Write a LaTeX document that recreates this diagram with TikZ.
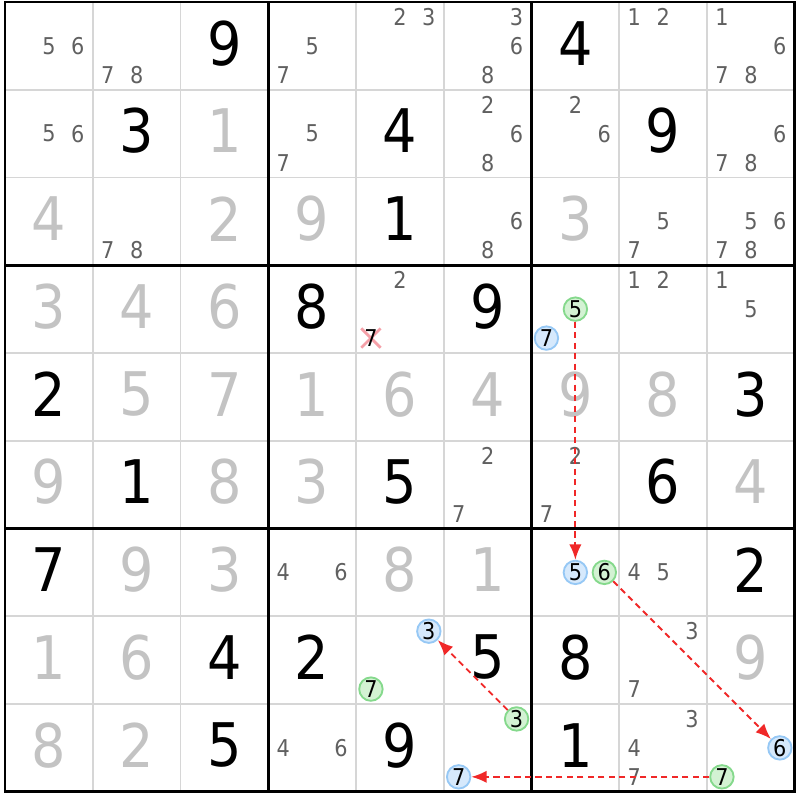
\documentclass[tikz,border=0pt]{standalone}
\usepackage{fontspec}
\setmainfont{DejaVu Sans Condensed}
\usetikzlibrary{arrows.meta}
\definecolor{candgray}{HTML}{606060}
\definecolor{solvedgray}{HTML}{C3C3C3}
\definecolor{thingray}{HTML}{D6D6D6}
\definecolor{linkred}{HTML}{F02828}
\definecolor{onblue}{HTML}{D6E9FC}
\definecolor{onblueline}{HTML}{96C8F5}
\definecolor{offgreen}{HTML}{D3F2D3}
\definecolor{offgreenline}{HTML}{85D98C}
\definecolor{crosspink}{HTML}{F5A0A8}
% candidate #4 of cell (#2,#3), placed in the 3x3 pencil grid
\newcommand{\cand}[4][]{%
  \pgfmathsetmacro{\candx}{#3-0.5+(mod(#4-1,3)-1)*0.33}%
  \pgfmathsetmacro{\candy}{#2-0.5+(floor((#4-1)/3)-1)*0.33}%
  \node[cnd,#1] (k#2#3#4) at (\candx,\candy) {#4};}

\begin{document}
\begin{tikzpicture}[x=1cm, y=-1cm,
  given/.style={font=\fontsize{19.5}{20}\selectfont, inner sep=0pt},
  solved/.style={given, text=solvedgray},
  cnd/.style={font=\fontsize{7.5}{8}\selectfont, text=candgray, inner sep=0pt},
  oncand/.style={circle, draw=onblueline, fill=onblue, text=black, minimum size=7.6pt, line width=0.6pt},
  offcand/.style={oncand, draw=offgreenline, fill=offgreen},
  link/.style={draw=linkred, dash pattern=on 2pt off 1.4pt, line width=0.6pt, -{Latex[length=5pt,width=4pt]}}]
	\fill[white] (-0.057,-0.023) rectangle (9.06,9.094);
	% grid
	\foreach \i in {1,2,4,5,7,8}
	  \draw[thingray, line width=0.5pt] (\i,0) -- (\i,9) (0,\i) -- (9,\i);
	\foreach \i in {3,6}
	  \draw[line width=0.95pt] (\i,0) -- (\i,9) (0,\i) -- (9,\i);
	\draw[line width=0.95pt] (0,0) rectangle (9,9);
	% givens and solved cells
	\foreach \r/\c/\d in {1/3/9,1/7/4,2/2/3,2/5/4,2/8/9,3/5/1,4/4/8,4/6/9,5/1/2,5/9/3,6/2/1,6/5/5,6/8/6,
	  7/1/7,7/9/2,8/3/4,8/4/2,8/6/5,8/7/8,9/3/5,9/5/9,9/7/1}
	  \node[given] (g\r\c) at (\c-0.5,\r-0.53) {\d};
	\foreach \r/\c/\d in {2/3/1,3/1/4,3/3/2,3/4/9,3/7/3,4/1/3,4/2/4,4/3/6,5/2/5,5/3/7,5/4/1,5/5/6,5/6/4,
	  5/7/9,5/8/8,6/1/9,6/3/8,6/4/3,6/9/4,7/2/9,7/3/3,7/5/8,7/6/1,8/1/1,8/2/6,8/9/9,9/1/8,9/2/2}
	  \node[solved] (g\r\c) at (\c-0.5,\r-0.53) {\d};
	% pencil marks
	\foreach \r/\c/\ds in {1/1/{5,6},1/2/{7,8},1/4/{5,7},1/5/{2,3},1/6/{3,6,8},1/8/{1,2},1/9/{1,6,7,8},
	  2/1/{5,6},2/4/{5,7},2/6/{2,6,8},2/7/{2,6},2/9/{6,7,8},3/2/{7,8},3/6/{6,8},3/8/{5,7},3/9/{5,6,7,8},
	  4/5/{2},4/8/{1,2},4/9/{1,5},6/6/{2,7},6/7/{2,7},7/4/{4,6},7/8/{4,5},8/8/{3,7},9/4/{4,6},9/8/{3,4,7}}
	  \foreach \d in \ds {\cand{\r}{\c}{\d}};
	% eliminated 7
	\draw[crosspink, line width=0.9pt] (4.06,3.72) -- (4.28,3.94) (4.06,3.94) -- (4.28,3.72);
	\cand[text=black]{4}{5}{7}
	% chain
	\cand[offcand]{4}{7}{5}
	\cand[oncand]{4}{7}{7}
	\cand[oncand]{7}{7}{5}
	\cand[offcand]{7}{7}{6}
	\cand[oncand]{9}{9}{6}
	\cand[offcand]{9}{9}{7}
	\cand[oncand]{9}{6}{7}
	\cand[offcand]{9}{6}{3}
	\cand[oncand]{8}{5}{3}
	\cand[offcand]{8}{5}{7}
	\draw[link] (k475) -- (k775);
	\draw[link] (k776) -- (k996);
	\draw[link] (k997) -- (k967);
	\draw[link] (k963) -- (k853);
\end{tikzpicture}
\end{document}
